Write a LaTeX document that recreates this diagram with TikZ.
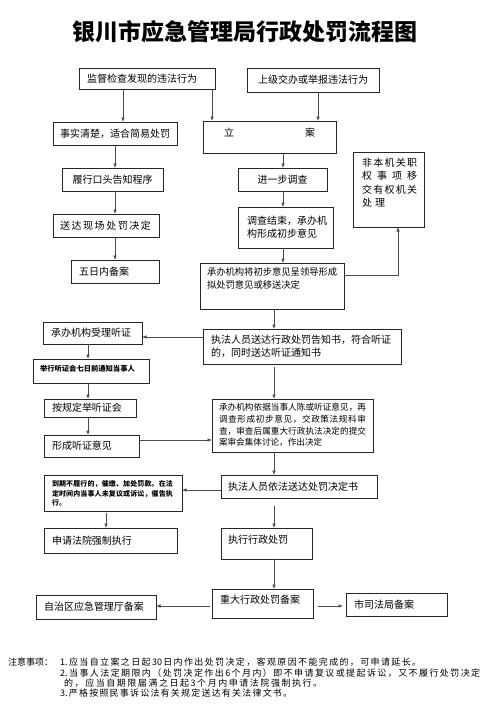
\documentclass[tikz,border=0pt]{standalone}
\usepackage{fontspec}
\setmainfont{Noto Sans CJK SC}
\usetikzlibrary{arrows.meta,calc}
\XeTeXlinebreaklocale "zh"
\XeTeXlinebreakskip=0pt plus 1pt
\def\sprAux#1#2\sprEnd{#1\if\relax\detokenize{#2}\relax\else\hfil\sprAux#2\sprEnd\fi}
\newcommand\spr[2]{\makebox[#1][s]{\sprAux#2\sprEnd}}
% name, x1, y1, x2, y2, vpos, left inset, content
\newcommand\bx[8]{\node[bx] (#1) at ({(#2+#4)/2},{(#3+#5)/2}) {\hspace*{#7pt}\parbox[c][\dimexpr#5pt-#3pt\relax][#6]{\dimexpr#4pt-#2pt-#7pt\relax}{#8}};}
\tikzset{
  bx/.style={draw=black!85, line width=0.8pt, inner sep=0pt, outer sep=0pt,
    font=\fontsize{10pt}{13pt}\selectfont},
  arr/.style={draw=black!70, line width=0.7pt, -{Latex[length=4.5pt,width=3.6pt]}},
  note/.style={anchor=base west, inner sep=0pt, font=\fontsize{9pt}{10pt}\selectfont}
}
\begin{document}
\begin{tikzpicture}[x=1pt,y=-1pt]
\useasboundingbox (0,0) rectangle (489,715);
\node[font=\bfseries\fontsize{23pt}{23pt}\selectfont] (title) at (245,32) {银川市应急管理局行政处罚流程图};

\bx{b1}{79}{68}{215}{89}{c}{8}{\raggedright 监督检查发现的违法行为}
\bx{b2}{247}{68}{379}{92}{c}{0}{\centering 上级交办或举报违法行为}
\bx{s1}{53}{122}{177}{145}{c}{0}{\centering 事实清楚，适合简易处罚}
\bx{la}{203}{121}{336}{153}{t}{0}{\centering\vspace*{7pt}立\hspace{71pt}案}
\bx{l1}{62}{168}{163}{191}{c}{0}{\centering 履行口头告知程序}
\bx{l2}{53}{214}{159}{237}{c}{7}{\raggedright\spr{91pt}{送达现场处罚决定}}
\bx{l3}{71}{260}{159}{283}{c}{8}{\raggedright 五日内备案}
\bx{r1}{238}{168}{327}{191}{c}{0}{\centering 进一步调查}
\bx{r2}{238}{207}{333}{248}{c}{9}{\raggedright 调查结束，承办机\\构形成初步意见}
\bx{r3}{200}{263}{344}{309}{t}{7}{\raggedright\fontsize{9.3pt}{13pt}\selectfont\vspace*{5pt}承办机构将初步意见呈领导形成\\拟处罚意见或移送决定}
\bx{nb}{353}{152}{424}{227}{t}{9}{\raggedright\fontsize{10pt}{13.5pt}\selectfont\vspace*{6pt}\spr{55pt}{非本机关职}\\\spr{55pt}{权事项移}\\\spr{55pt}{交有权机关}\\处\hspace{3pt}理}
\bx{z1}{203}{329}{401}{364}{c}{8}{\raggedright 执法人员送达行政处罚告知书，符合听证\\的，同时送达听证通知书}
\bx{h1}{43}{322}{142}{344}{c}{8}{\raggedright 承办机构受理听证}
\bx{h2}{33}{359}{149}{383}{t}{7}{\raggedright\bfseries\fontsize{7.3pt}{9pt}\selectfont\vspace*{6pt}举行听证会七日前通知当事人}
\bx{h3}{44}{399}{136}{417}{c}{8}{\raggedright 按规定举听证会}
\bx{h4}{44}{435}{139}{457}{c}{8}{\raggedright 形成听证意见}
\bx{z2}{212}{399}{373}{452}{t}{7}{\raggedright\fontsize{8.6pt}{11.7pt}\selectfont\vspace*{4.5pt}\spr{147pt}{承办机构依据当事人陈或听证意见，再}\\\spr{147pt}{调查形成初步意见，交政策法规科审}\\\spr{147pt}{查，审查后属重大行政执法决定的提交}\\案审会集体讨论，作出决定}
\bx{z3}{221}{475}{377}{498}{c}{7}{\raggedright 执法人员依法送达处罚决定书}
\bx{d1}{44}{475}{182}{511}{t}{8}{\raggedright\bfseries\fontsize{7pt}{9.5pt}\selectfont\vspace*{5.5pt}\spr{121pt}{到期不履行的，催缴、加处罚款。在法}\\\spr{121pt}{定时间内当事人未复议或诉讼，催告执}\\行。}
\bx{d2}{44}{528}{177}{553}{c}{8}{\raggedright 申请法院强制执行}
\bx{z4}{221}{528}{312}{559}{t}{7}{\raggedright\vspace*{7.5pt}执行行政处罚}
\bx{z5}{212}{589}{313}{618}{t}{8}{\raggedright\vspace*{6.5pt}重大行政处罚备案}
\bx{e1}{36}{595}{156}{619}{c}{8}{\raggedright 自治区应急管理厅备案}
\bx{e2}{346}{593}{447}{616}{c}{8}{\raggedright 市司法局备案}

\coordinate (xa) at (123,0);
\coordinate (xb) at (212,0);
\coordinate (xc) at (318,0);
\coordinate (xd) at (115,0);
\coordinate (xe) at (283,0);
\coordinate (xf) at (398,0);
\coordinate (xg) at (274,0);
\coordinate (xh) at (88,0);
\coordinate (xi) at (106,0);
\coordinate (ya) at (0,275);
\coordinate (yb) at (0,337);
\coordinate (yc) at (0,440);
\coordinate (yd) at (0,490);
\coordinate (ye) at (0,606);

\draw[arr] (b1.south -| xa) -- (s1.north -| xa);
\draw[arr] (b1.south -| xb) -- (la.north -| xb);
\draw[arr] (b2.south -| xc) -- (la.north -| xc);
\draw[arr] (s1.south -| xd) -- (l1.north -| xd);
\draw[arr] (l1.south -| xd) -- (l2.north -| xd);
\draw[arr] (l2.south -| xd) -- (l3.north -| xd);
\draw[arr] (la.south -| xe) -- (r1.north -| xe);
\draw[arr] (r1.south -| xe) -- (r2.north -| xe);
\draw[arr] (r2.south -| xe) -- (r3.north -| xe);
\draw[arr] (r3.east |- ya) -| (nb.south -| xf);
\draw[arr] (r3.south -| xg) -- (z1.north -| xg);
\draw[arr] (z1.west |- yb) -- (h1.east |- yb);
\draw[arr] (h1.south -| xh) -- (h2.north -| xh);
\draw[arr] (h2.south -| xh) -- (h3.north -| xh);
\draw[arr] (h3.south -| xh) -- (h4.north -| xh);
\draw[arr] (h4.east |- yc) -- (z2.west |- yc);
\draw[arr, shorten <=3pt] (z1.south -| xg) -- (z2.north -| xg);
\draw[arr] (z2.south -| xg) -- (z3.north -| xg);
\draw[arr] (z3.west |- yd) -- (d1.east |- yd);
\draw[arr, shorten <=2pt] (d1.south -| xi) -- (d2.north -| xi);
\draw[arr, shorten <=8pt] (z3.south -| xg) -- (z4.north -| xg);
\draw[arr] (z4.south -| xg) -- (z5.north -| xg);
\draw[arr, shorten <=2pt] (z5.west |- ye) -- (e1.east |- ye);
\draw[arr, shorten <=5pt, shorten >=3pt] (z5.east |- ye) -- (e2.west |- ye);

\node[note] (n0) at (8,665.4) {注意事项：};
\node[note] (n1) at (60,665.4) {\spr{361pt}{{1.}应当自立案之日起{30}日内作出处罚决定，客观原因不能完成的，可申请延长。}};
\node[note] (n2) at (60,676.4) {\spr{420pt}{{2.}当事人法定期限内（处罚决定作出{6}个月内）即不申请复议或提起诉讼，又不履行处罚决定}};
\node[note] (n3) at (64,686.4) {\spr{258pt}{的，应当自期限届满之日起{3}个月内申请法院强制执行。}};
\node[note] (n4) at (60,696.4) {\spr{232pt}{{3.}严格按照民事诉讼法有关规定送达有关法律文书。}};
\end{tikzpicture}
\end{document}
